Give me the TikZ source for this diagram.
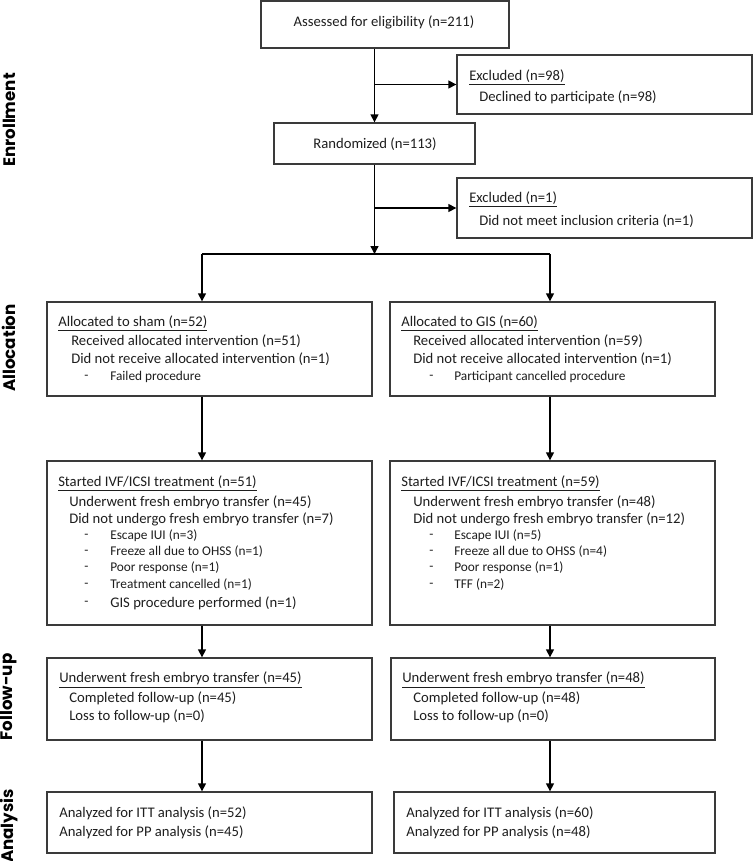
\documentclass[tikz,border=0pt]{standalone}
\usepackage{fontspec}
\setmainfont{Carlito}
\newfontfamily\labfont{Poppins}
\usetikzlibrary{arrows.meta}
\definecolor{boxc}{HTML}{3A3A3A}
\definecolor{txtc}{HTML}{1E1E1E}
\begin{document}
\begin{tikzpicture}[x=0.75pt,y=-0.75pt,
  box/.style n args={2}{draw=boxc, line width=1pt, minimum width=#1*0.75pt, minimum height=#2*0.75pt, inner sep=0pt},
  txt/.style={anchor=west, inner sep=0pt, text=txtc, font=\fontsize{11}{13}\selectfont},
  sml/.style={anchor=west, inner sep=0pt, text=txtc, font=\fontsize{10}{12}\selectfont},
  ctr/.style={anchor=center, inner sep=0pt, text=txtc, font=\fontsize{11}{13}\selectfont},
  lab/.style={rotate=90, inner sep=0pt, text=black, font=\labfont\bfseries\fontsize{12.5}{14}\selectfont},
  arr/.style={draw=black, line width=1pt, -{Triangle[length=6pt,width=6pt]}},
  ln/.style={draw=black, line width=1pt}]
\useasboundingbox[fill=white] (0,0) rectangle (753,861);

% stage labels
\node[lab] (lEnr) at (9,120) {Enrollment};
\node[lab] (lAll) at (9,348) {Allocation};
\node[lab] (lFol) at (9,697) {Follow-up};
\node[lab] (lAna) at (9,826) {Analysis};

% boxes
\node[box={248}{47}] (top) at (385,24.5) {};
\node[box={295}{59}] (ex1) at (604.5,84.5) {};
\node[box={201}{41}] (rand) at (374.5,143.5) {};
\node[box={295}{60}] (ex2) at (604.5,208) {};
\node[box={325}{94}] (shamA) at (209.5,349) {};
\node[box={325}{94}] (gisA) at (552.5,349) {};
\node[box={325}{164}] (ivfL) at (209.5,543) {};
\node[box={325}{164}] (ivfR) at (552.5,543) {};
\node[box={325}{82}] (fuL) at (209.5,699) {};
\node[box={324}{82}] (fuR) at (553,699) {};
\node[box={325}{61}] (anL) at (209.5,822.5) {};
\node[box={321}{61}] (anR) at (554.5,822.5) {};

% texts
\node[ctr] (tTop) at (384,22) {Assessed for eligibility (n=211)};
\node[txt] (tEx1a) at (469,77) {\underline{Excluded (n=98)}};
\node[txt] (tEx1b) at (479,97) {Declined to participate (n=98)};
\node[ctr] (tRand) at (375,144) {Randomized (n=113)};
\node[txt] (tEx2a) at (469,199) {\underline{Excluded (n=1)}};
\node[txt] (tEx2b) at (479,221) {Did not meet inclusion criteria (n=1)};

\node[txt] (tSa) at (58,323) {\underline{Allocated to sham (n=52)}};
\node[txt] (tSb) at (71,341) {Received allocated intervention (n=51)};
\node[txt] (tSc) at (71,359) {Did not receive allocated intervention (n=1)};
\node[sml] (tSd) at (84,377) {-};
\node[sml] (tSe) at (110,377) {Failed procedure};

\node[txt] (tGa) at (401,323) {\underline{Allocated to GIS (n=60)}};
\node[txt] (tGb) at (413,341) {Received allocated intervention (n=59)};
\node[txt] (tGc) at (413,359) {Did not receive allocated intervention (n=1)};
\node[sml] (tGd) at (429,377) {-};
\node[sml] (tGe) at (454,377) {Participant cancelled procedure};

\node[txt] (tIa) at (58,483) {\underline{Started IVF/ICSI treatment (n=51)}};
\node[txt] (tIb) at (69,502) {Underwent fresh embryo transfer (n=45)};
\node[txt] (tIc) at (69,519) {Did not undergo fresh embryo transfer (n=7)};
\node[sml] (tId1) at (84,536) {-};
\node[sml] (tIe1) at (110,536) {Escape IUI (n=3)};
\node[sml] (tId2) at (84,552) {-};
\node[sml] (tIe2) at (110,552) {Freeze all due to OHSS (n=1)};
\node[sml] (tId3) at (84,568) {-};
\node[sml] (tIe3) at (110,568) {Poor response (n=1)};
\node[sml] (tId4) at (84,585) {-};
\node[sml] (tIe4) at (110,585) {Treatment cancelled (n=1)};
\node[sml] (tId5) at (84,603) {-};
\node[txt] (tIe5) at (110,603) {GIS procedure performed (n=1)};

\node[txt] (tJa) at (401,483) {\underline{Started IVF/ICSI treatment (n=59)}};
\node[txt] (tJb) at (413,502) {Underwent fresh embryo transfer (n=48)};
\node[txt] (tJc) at (413,519) {Did not undergo fresh embryo transfer (n=12)};
\node[sml] (tJd1) at (429,536) {-};
\node[sml] (tJe1) at (454,536) {Escape IUI (n=5)};
\node[sml] (tJd2) at (429,552) {-};
\node[sml] (tJe2) at (454,552) {Freeze all due to OHSS (n=4)};
\node[sml] (tJd3) at (429,568) {-};
\node[sml] (tJe3) at (454,568) {Poor response (n=1)};
\node[sml] (tJd4) at (429,585) {-};
\node[sml] (tJe4) at (454,585) {TFF (n=2)};

\node[txt] (tFa) at (59,680) {\underline{Underwent fresh embryo transfer (n=45)}};
\node[txt] (tFb) at (69,698) {Completed follow-up (n=45)};
\node[txt] (tFc) at (69,716) {Loss to follow-up (n=0)};
\node[txt] (tHa) at (402,680) {\underline{Underwent fresh embryo transfer (n=48)}};
\node[txt] (tHb) at (413,698) {Completed follow-up (n=48)};
\node[txt] (tHc) at (413,716) {Loss to follow-up (n=0)};

\node[txt] (tAa) at (59,813) {Analyzed for ITT analysis (n=52)};
\node[txt] (tAb) at (59,832) {Analyzed for PP analysis (n=45)};
\node[txt] (tBa) at (406,813) {Analyzed for ITT analysis (n=60)};
\node[txt] (tBb) at (406,832) {Analyzed for PP analysis (n=48)};

% connectors
\coordinate (split) at (374.5,254);
\coordinate (colL) at (202,254);
\coordinate (colR) at (550,254);
\draw[arr] (top.south -| rand.north) -- (rand.north);
\draw[arr] (rand.north |- ex1.west) -- (ex1.west);
\draw[arr] (rand.south) -- (split);
\draw[arr] (rand.south |- ex2.west) -- (ex2.west);
\draw[ln] (colL) -- (colR);
\draw[arr] (colL) -- (colL |- shamA.north);
\draw[arr] (colR) -- (colR |- gisA.north);
\draw[arr] (shamA.south -| colL) -- (ivfL.north -| colL);
\draw[arr] (gisA.south -| colR) -- (ivfR.north -| colR);
\draw[arr] (ivfL.south -| colL) -- (fuL.north -| colL);
\draw[arr] (ivfR.south -| colR) -- (fuR.north -| colR);
\draw[arr] (fuL.south -| colL) -- (anL.north -| colL);
\draw[arr] (fuR.south -| colR) -- (anR.north -| colR);
\end{tikzpicture}
\end{document}
